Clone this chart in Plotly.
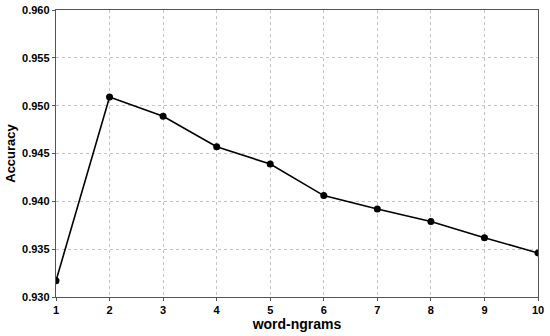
import plotly.graph_objects as go

ngrams = [1, 2, 3, 4, 5, 6, 7, 8, 9, 10]
accuracy = [0.9317, 0.9509, 0.9489, 0.9457, 0.9439, 0.9406, 0.9392, 0.9379, 0.9362, 0.9346]
y_ticks = [0.930, 0.935, 0.940, 0.945, 0.950, 0.955, 0.960]

fig = go.Figure()
fig.add_trace(go.Scatter(
    x=ngrams, y=accuracy, mode="lines+markers",
    line=dict(color="black", width=1.6),
    marker=dict(color="black", size=7),
    cliponaxis=True, showlegend=False, hoverinfo="skip",
))

axis_common = dict(
    showgrid=True, gridcolor="#c4c4c4", griddash="dot", gridwidth=1,
    showline=True, linecolor="#555555", linewidth=1.2, mirror=True,
    ticks="outside", ticklen=3, tickcolor="#555555",
    tickfont=dict(family="Liberation Sans, Arial", size=11, color="black", weight="bold"),
    zeroline=False, automargin=False,
)

fig.update_xaxes(
    range=[1, 10], tickvals=ngrams, ticktext=[str(v) for v in ngrams],
    title=dict(text="word-ngrams", font=dict(family="Liberation Sans, Arial", size=14, color="black", weight="bold"), standoff=0),
    **axis_common,
)
fig.update_yaxes(
    range=[0.930, 0.960], tickvals=y_ticks, ticktext=[f"{v:.3f}" for v in y_ticks],
    title=dict(text="Accuracy", font=dict(family="Liberation Sans, Arial", size=13, color="black", weight="bold"), standoff=3),
    **axis_common,
)

fig.update_layout(
    width=550, height=336,
    margin=dict(l=56, r=12, t=10, b=39),
    plot_bgcolor="white", paper_bgcolor="white",
    hovermode=False,
)

fig.write_html("out.html", config={"displayModeBar": False, "staticPlot": True},
               post_script="document.body.style.margin='0';")
